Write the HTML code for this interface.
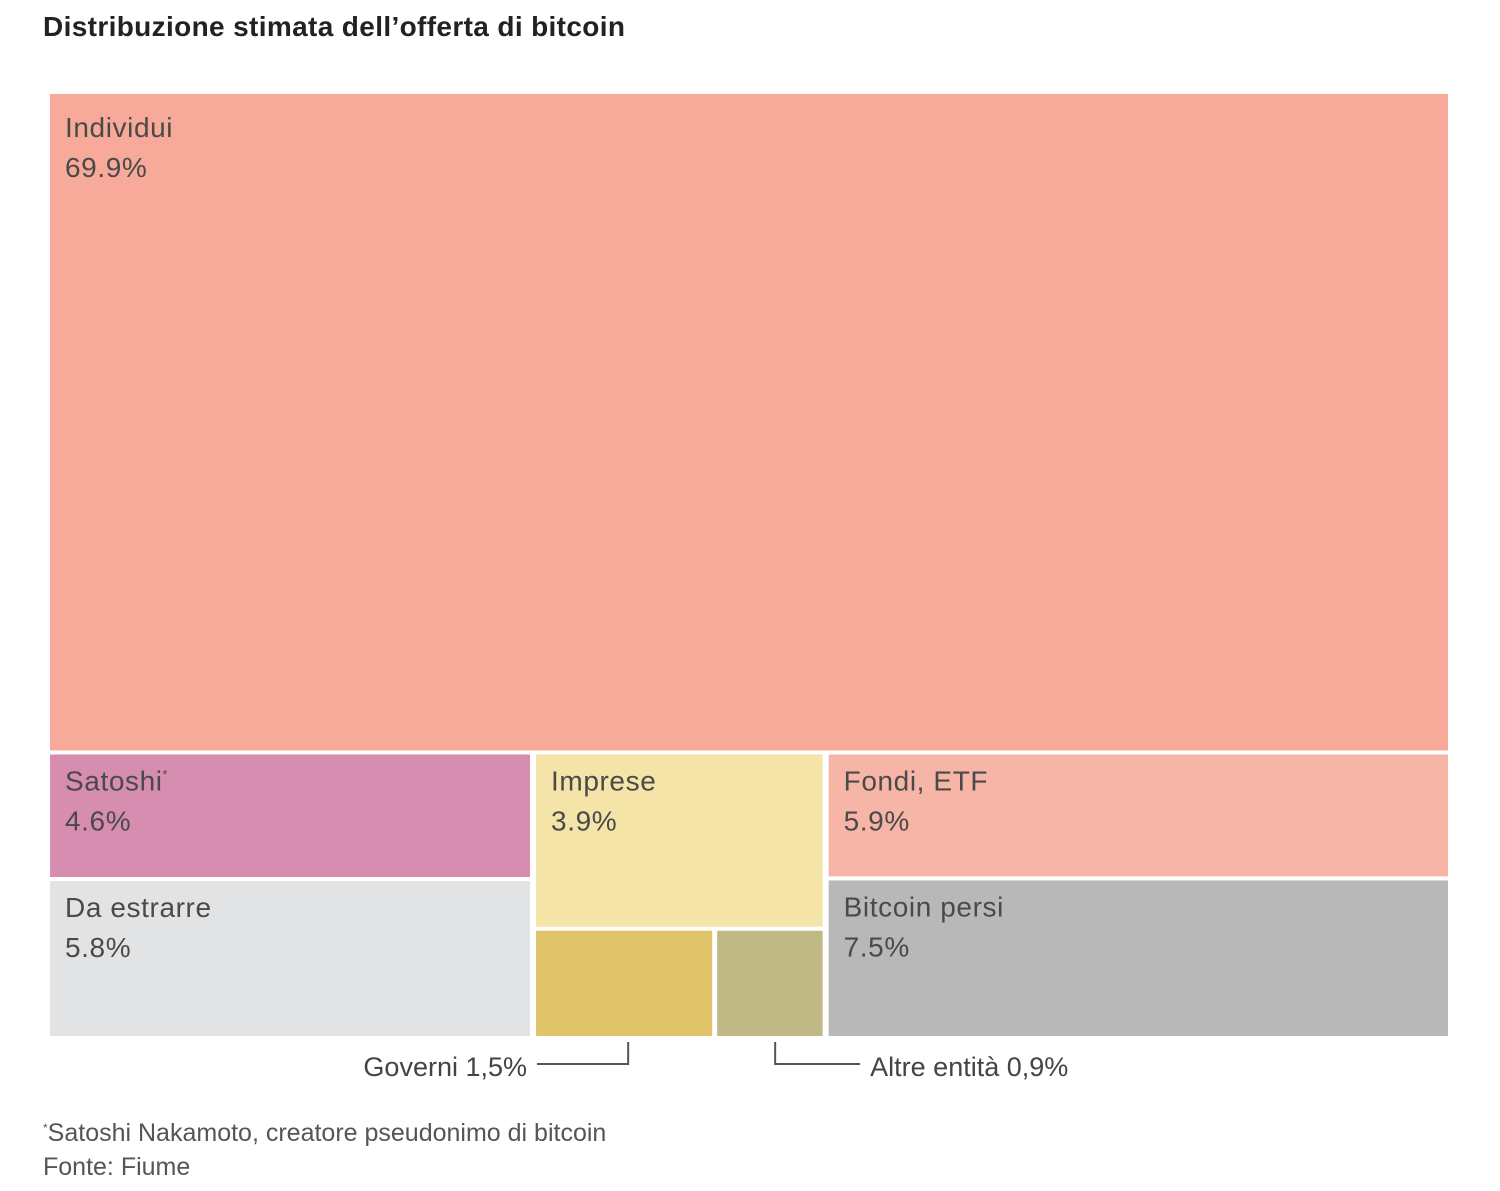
<!DOCTYPE html>
<html><head><meta charset="utf-8"><style>
body{margin:0;background:#fff;width:1500px;height:1186px;overflow:hidden;font-family:"Liberation Sans",sans-serif}
svg text{font-family:"Liberation Sans",sans-serif}
</style></head><body>
<svg id="chart" width="1500" height="1186" xmlns="http://www.w3.org/2000/svg">
<text x="43" y="36" font-size="28" font-weight="bold" fill="#222" textLength="582">Distribuzione stimata dell’offerta di bitcoin</text>
<g id="marks"></g>
<text x="43" y="1141" font-size="25" fill="#555"><tspan font-size="12" dy="-9">*</tspan><tspan dy="9">Satoshi Nakamoto, creatore pseudonimo di bitcoin</tspan></text>
<text x="43" y="1175" font-size="25" fill="#555">Fonte: Fiume</text>
</svg>
<script>
const names=["Individui","Satoshi","Da estrarre","Imprese","Governi","Altre entità","Fondi, ETF","Bitcoin persi"];
const values=[69.9,4.6,5.8,3.9,1.5,0.9,5.9,7.5];
const labels=["69.9%","4.6%","5.8%","3.9%","1,5%","0,9%","5.9%","7.5%"];
const colors=["#f7a99a","#d78db0","#e2e3e5","#f4e4a8","#e0c46a","#c0b985","#f7b5a8","#b8b8b8"];
const NS="http://www.w3.org/2000/svg";
const g=document.getElementById('marks');
const X0=50,Y0=94,W=1398,H=942,GAP=4;
const total=values.reduce((a,b)=>a+b,0);
function rect(i,x,y,w,h,showLabel,off){
  const r=document.createElementNS(NS,'rect');
  r.setAttribute('x',x);r.setAttribute('y',y);r.setAttribute('width',Math.max(0,w));r.setAttribute('height',Math.max(0,h));
  r.setAttribute('fill',colors[i]);
  
  
  g.appendChild(r);
  if(showLabel){
    const t=document.createElementNS(NS,'text');
    t.setAttribute('x',x+15);t.setAttribute('y',y+off);t.setAttribute('font-size','28');t.setAttribute('fill','#4a4a4a');t.setAttribute('letter-spacing','0.6');
    
    
    t.textContent=names[i];
    if(i===1){const s=document.createElementNS(NS,'tspan');s.setAttribute('font-size','12');s.setAttribute('dy','-12');s.textContent='*';t.appendChild(s);}
    g.appendChild(t);
    const v=document.createElementNS(NS,'text');
    v.setAttribute('x',x+15);v.setAttribute('y',y+off+40);v.setAttribute('font-size','28');v.setAttribute('fill','#4a4a4a');v.setAttribute('letter-spacing','0.6');
    
    
    v.textContent=labels[i];
    g.appendChild(v);
  }
}
const hTop=H*values[0]/total;
rect(0,X0,Y0,W,hTop-GAP/2,true,43);
const yB=Y0+hTop+GAP/2, hB=Y0+H-yB;
const rest=total-values[0];
const cols=[[1,2],[3,4,5],[6,7]];
let x=X0;
const pos={};
cols.forEach((c,ci)=>{
  const s=c.reduce((a,i)=>a+values[i],0);
  const w=W*s/rest;
  const x1=x+(ci>0?GAP/2+1:0), x2=x+w-(ci<2?GAP/2+1:0);
  const cw=x2-x1;
  const hA=hB*values[c[0]]/s;
  rect(c[0],x1,yB,cw,hA-GAP/2,true,36);
  if(c.length===2){
    rect(c[1],x1,yB+hA+GAP/2,cw,hB-hA-GAP/2,true,36);
  } else {
    const s2=values[c[1]]+values[c[2]];
    const wa=cw*values[c[1]]/s2;
    const yy=yB+hA+GAP/2, hh=hB-hA-GAP/2;
    rect(c[1],x1,yy,wa-GAP/2-1,hh,false,36);
    rect(c[2],x1+wa+GAP/2,yy,cw-wa-GAP/2,hh,false,36);
    pos.gov=x1+wa-GAP/2-1; pos.govL=x1; pos.alt=x1+wa+GAP/2+58;
  }
  x+=w;
});
const yb=Y0+H;
function line(d,n){const p=document.createElementNS(NS,'path');p.setAttribute('d',d);p.setAttribute('stroke','#555');p.setAttribute('stroke-width','2');p.setAttribute('fill','none');


g.appendChild(p);}
function txt(s,xx,anchor,n){const t=document.createElementNS(NS,'text');t.setAttribute('x',xx);t.setAttribute('y',yb+40);t.setAttribute('font-size','27');t.setAttribute('fill','#444');t.setAttribute('text-anchor',anchor);t.textContent=s;


g.appendChild(t);}
const gx=pos.gov-84;
line(`M${pos.govL+1},${yb+28} H${gx} V${yb+6}`,'governi-leader-line');
txt(names[4]+' '+labels[4],pos.govL-9,'end','governi-label');
const ax=pos.alt;
line(`M${ax},${yb+6} V${yb+28} H${ax+85}`,'altre-leader-line');
txt(names[5]+' '+labels[5],ax+95,'start','altre-label');
</script>
</body></html>
